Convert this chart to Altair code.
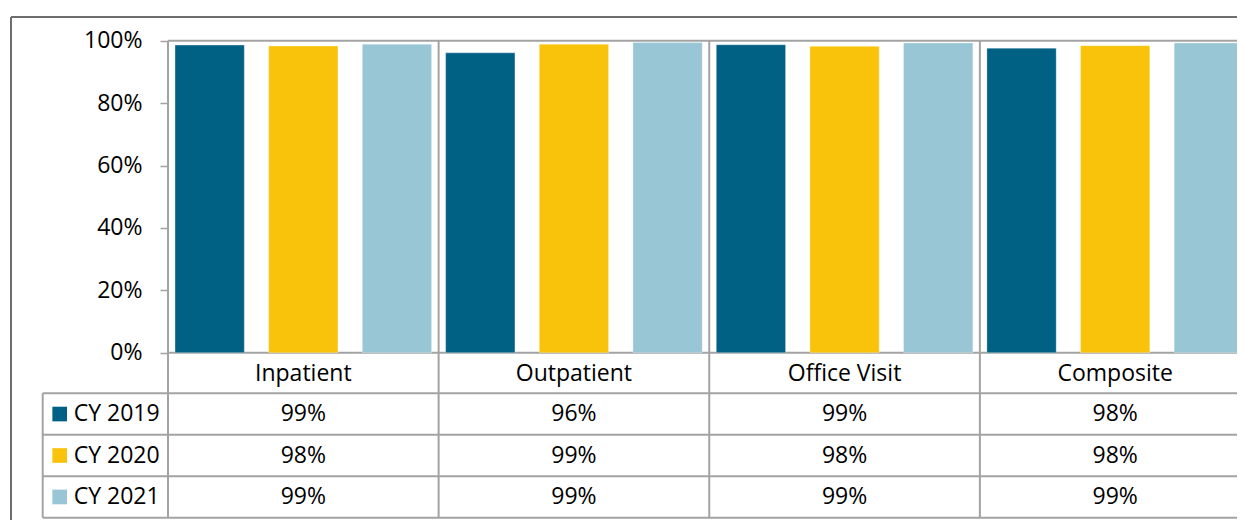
import altair as alt
import pandas as pd

categories = ["Inpatient", "Outpatient", "Office Visit", "Composite"]
series = ["CY 2019", "CY 2020", "CY 2021"]
values_2019 = [0.986, 0.961, 0.987, 0.976]
values_2020 = [0.983, 0.989, 0.982, 0.984]
values_2021 = [0.989, 0.994, 0.993, 0.993]
table_2019 = ["99%", "96%", "99%", "98%"]
table_2020 = ["98%", "99%", "98%", "98%"]
table_2021 = ["99%", "99%", "99%", "99%"]
colors = ["#006185", "#F8C30A", "#98C6D5"]
y_ticks = [0, 0.2, 0.4, 0.6, 0.8, 1.0]

rows = []
for s, vals, labs in zip(series, [values_2019, values_2020, values_2021],
                         [table_2019, table_2020, table_2021]):
    for c, v, l in zip(categories, vals, labs):
        rows.append({"category": c, "series": s, "value": v, "label": l})
df = pd.DataFrame(rows)
cat_df = pd.DataFrame({"category": categories})
ser_df = pd.DataFrame({"series": series})
one = pd.DataFrame({"a": [0]})

W, H = 1226, 503
PL, PR = 157, 1239.5
PT, PB = 23.7, 335.7
ROW_TOP, ROW_BOT = 376.3, 500.7
LEG_L = 31.7

FONT = "Open Sans"
FS = 23
GRID = "#A3A3A3"
FRAME = "#6E6E6E"

xs = alt.Scale(domain=categories, range=[PL, PR], paddingInner=0, paddingOuter=0)
ys_val = alt.Scale(domain=[0, 1], range=[PB, PT], nice=False, zero=True)
ys_row = alt.Scale(domain=series, range=[ROW_TOP, ROW_BOT], paddingInner=0, paddingOuter=0)
color_s = alt.Scale(domain=series, range=colors)

X = alt.X("category:N", scale=xs, axis=None, sort=categories)

bars = alt.Chart(df).mark_bar(stroke="#FFFFFF", strokeWidth=0.6, strokeOpacity=0.5).encode(
    x=X,
    xOffset=alt.XOffset("series:N", sort=series,
                        scale=alt.Scale(domain=series, paddingInner=0.26, paddingOuter=0.075)),
    y=alt.Y("value:Q", scale=ys_val,
            axis=alt.Axis(values=y_ticks, format=".0%", offset=-PL, domain=False, grid=False,
                          tickSize=8, tickColor=GRID, tickWidth=1.5, labelFont=FONT,
                          labelFontSize=FS, labelColor="black", labelPadding=18, title=None)),
    color=alt.Color("series:N", scale=color_s, legend=None),
)


def hline(y, x1, x2, color=GRID, w=2):
    return alt.Chart(one).mark_rule(color=color, strokeWidth=w).encode(
        x=alt.value(x1), x2=alt.value(x2), y=alt.value(y))


def vline(x, y1, y2, color=GRID, w=2):
    return alt.Chart(one).mark_rule(color=color, strokeWidth=w).encode(
        x=alt.value(x), y=alt.value(y1), y2=alt.value(y2))


seps = alt.Chart(cat_df).mark_rule(color=GRID, strokeWidth=2).encode(
    x=alt.X("category:N", scale=xs, axis=None, sort=categories, bandPosition=0),
    y=alt.value(PT), y2=alt.value(ROW_BOT))

row_lines = alt.Chart(ser_df).mark_rule(color=GRID, strokeWidth=2).encode(
    y=alt.Y("series:N", scale=ys_row, axis=None, sort=series, bandPosition=0),
    x=alt.value(LEG_L), x2=alt.value(W + 20))

header = alt.Chart(cat_df).mark_text(font=FONT, fontSize=FS, color="black").encode(
    x=X, y=alt.value((PB + ROW_TOP) / 2 + 1), text="category:N")

vals = alt.Chart(df).mark_text(font=FONT, fontSize=FS, color="black").encode(
    x=X,
    y=alt.Y("series:N", scale=ys_row, axis=None, sort=series),
    text="label:N")

leg_sq = alt.Chart(ser_df).mark_square(size=215, opacity=1, filled=True).encode(
    x=alt.value(48.7),
    y=alt.Y("series:N", scale=ys_row, axis=None, sort=series),
    color=alt.Color("series:N", scale=color_s, legend=None))

leg_tx = alt.Chart(ser_df).mark_text(align="left", font=FONT, fontSize=FS, color="black").encode(
    x=alt.value(62.7),
    y=alt.Y("series:N", scale=ys_row, axis=None, sort=series),
    text="series:N")

chart = alt.layer(
    hline(PT, PL, W + 20),
    hline(PB, PL, W + 20),
    hline(ROW_BOT, LEG_L, W + 20),
    vline(LEG_L, ROW_TOP, ROW_BOT),
    seps,
    row_lines,
    bars,
    header,
    vals,
    leg_sq,
    leg_tx,
    vline(0, 0, H + 10, FRAME, 2),
    hline(0, 0, W + 10, FRAME, 2),
).resolve_scale(y="independent").properties(
    width=W, height=H,
    autosize=alt.AutoSizeParams(type="none"),
    padding={"left": 3, "top": 9, "right": 0, "bottom": 0},
).configure_view(stroke=None)

chart.save("out.html", embed_options={"renderer": "svg", "actions": False})
